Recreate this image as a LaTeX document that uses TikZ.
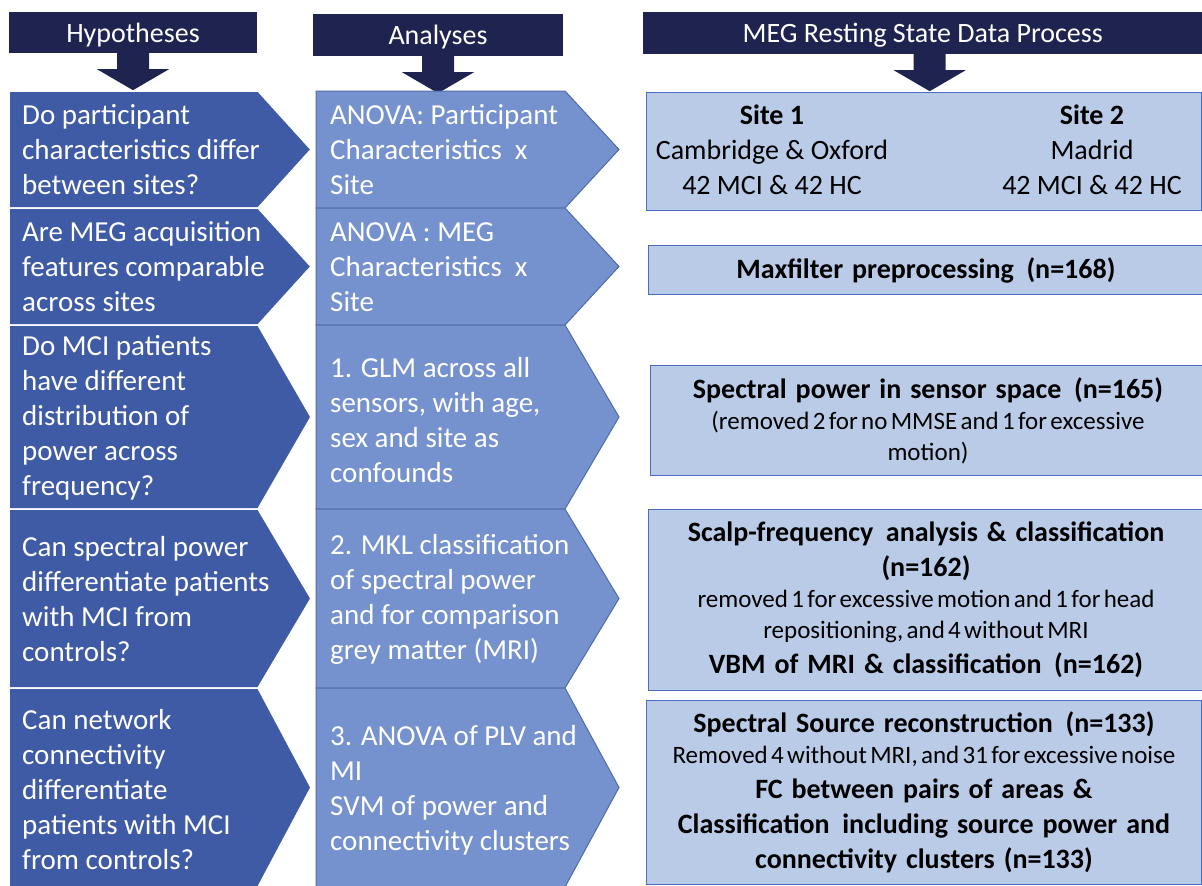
\documentclass[tikz,border=0pt]{standalone}
\usepackage{fontspec}
\setmainfont{Carlito}
\usetikzlibrary{positioning}

\definecolor{headnavy}{HTML}{1E2350}
\definecolor{hypblue}{HTML}{3F5BA6}
\definecolor{anablue}{HTML}{7592CE}
\definecolor{anaedge}{HTML}{4F6BAA}
\definecolor{boxblue}{HTML}{BACBE8}
\definecolor{boxedge}{HTML}{4A6EBF}

% one line of a process box, bold or plain
\newcommand\boldline[1]{{\bfseries\fontsize{28}{35}\selectfont\spaceskip=0.32em #1\par}}
\newcommand\plainline[1]{{\fontsize{25}{31}\selectfont #1\par}}

\tikzset{
  header/.style={fill=headnavy, text=white, inner sep=0pt, text depth=0pt,
    font=\fontsize{28}{34}\selectfont},
  hypshape/.style={fill=hypblue, draw=white, line width=1.5pt},
  anashape/.style={fill=anablue, draw=anaedge, line width=1pt},
  coltext/.style={anchor=west, text=white, align=left, inner sep=0pt,
    font=\fontsize{29}{35}\selectfont},
  stepbox/.style={anchor=north west, draw=boxedge, fill=boxblue, line width=1pt,
    minimum width=555, text width=535, inner xsep=10pt, inner ysep=0pt, align=center},
  sitetext/.style={align=center, inner sep=0pt, font=\fontsize{28}{35}\selectfont},
}

\begin{document}
\begin{tikzpicture}[x=1pt, y=-1pt]
  \useasboundingbox (0,0) rectangle (1202,886);

  % column heads
  \node[header, minimum width=248, minimum height=41] (hyphead) at (133,32.5) {Hypotheses};
  \node[header, minimum width=250, minimum height=42] (anahead) at (438,35) {Analyses};
  \node[header, minimum width=559, minimum height=42, anchor=west] (meghead) at (643,33)
    {MEG Resting State Data Process};

  % block arrows under the heads
  \foreach \h/\dx in {hyphead/0, anahead/0, meghead/7}
    \fill[headnavy] ([xshift=\dx]\h.south) ++(-16,-1) -- ++(0,17) -- ++(-20,0)
      -- ++(36,21) -- ++(36,-21) -- ++(-20,0) -- ++(0,-17) -- cycle;

  % hypotheses and analyses, one chevron per row
  \foreach \n/\top/\bot in {1/91/208, 2/208/325, 3/325/509, 4/509/688, 5/688/887} {
    \filldraw[hypshape] (9,\top) -- (258,\top) -- (311,{(\top+\bot)/2})
      -- (258,\bot) -- (9,\bot) -- cycle;
    \filldraw[anashape] (316,\top) -- (565,\top) -- (619,{(\top+\bot)/2})
      -- (565,\bot) -- (316,\bot) -- cycle;
  }

  \foreach \n/\y/\txt in {
      1/150/{Do participant\\characteristics differ\\between sites?},
      2/267/{Are MEG acquisition\\features comparable\\across sites},
      3/418/{Do MCI patients\\have different\\distribution of\\power across\\frequency?},
      4/599/{Can spectral power\\differentiate patients\\with MCI from\\controls?},
      5/790/{Can network\\connectivity\\differentiate\\patients with MCI\\from controls?}}
    \node[coltext] (hyp\n) at (22,\y) {\txt};

  \foreach \n/\y/\txt in {
      1/150/{ANOVA: Participant\\Characteristics\ \ x\\Site},
      2/267/{ANOVA : MEG\\Characteristics\ \ x\\Site},
      3/420/{1. GLM across all\\sensors, with age,\\sex and site as\\confounds},
      4/599/{2. MKL classification\\of spectral power\\and for comparison\\grey matter (MRI)},
      5/790/{3. ANOVA of PLV and\\MI\\SVM of power and\\connectivity clusters}}
    \node[coltext] (ana\n) at (330,\y) {\txt};

  % data process boxes
  \node[stepbox, minimum height=118] (sites) at (646,92) {};
  \node[sitetext] (site1) at (772,150) {\textbf{Site 1}\\Cambridge \& Oxford\\42 MCI \& 42 HC};
  \node[sitetext] (site2) at (1092,150) {\textbf{Site 2}\\Madrid\\42 MCI \& 42 HC};

  \node[stepbox, minimum height=49] (maxf) at (648,245)
    {\boldline{Maxfilter preprocessing\hspace{0.45em}(n=168)}};

  \node[stepbox, minimum height=110] (sensor) at (650,365)
    {\boldline{Spectral power in sensor space\hspace{0.45em}(n=165)}
     \plainline{(removed 2 for no MMSE and 1 for excessive}
     \plainline{motion)}};

  \node[stepbox, minimum height=181] (scalp) at (648,509)
    {\boldline{Scalp-frequency\hspace{0.45em}analysis \& classification}
     \boldline{(n=162)}
     \plainline{removed 1 for excessive motion and 1 for head}
     \plainline{repositioning, and 4 without MRI}
     \boldline{VBM of MRI \& classification\hspace{0.45em}(n=162)}};

  \node[stepbox, minimum height=184] (source) at (646,700)
    {\boldline{Spectral Source reconstruction\hspace{0.45em}(n=133)}
     \plainline{Removed 4 without MRI, and 31 for excessive noise}
     \boldline{FC between pairs of areas \&}
     \boldline{Classification\hspace{0.45em}including source power and}
     \boldline{connectivity clusters (n=133)}};
\end{tikzpicture}
\end{document}
